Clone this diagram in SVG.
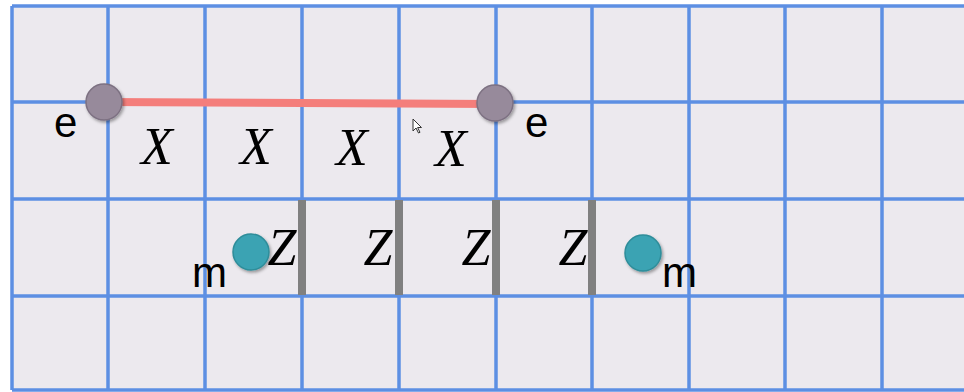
<svg xmlns="http://www.w3.org/2000/svg" width="964" height="392" viewBox="0 0 964 392">
<defs>
<style>
.grid line{stroke:#5d8fe3;stroke-width:3.5}
.bar{stroke:#808080;stroke-width:8}
.lbl{font-family:"Liberation Sans",Arial,sans-serif;font-size:42px;fill:#000}
.var{font-family:"Liberation Serif","Times New Roman",serif;font-style:italic;font-size:52px;fill:#000;text-anchor:middle}
.e{fill:#978a9b;stroke:#7d7182;stroke-width:1.5}
.m{fill:#3aa3b3;stroke:#2e8d9a;stroke-width:1.5}
</style>
<filter id="sh" x="-30%" y="-30%" width="160%" height="160%">
<feDropShadow dx="1.5" dy="2" stdDeviation="1.5" flood-color="#000" flood-opacity="0.35"/>
</filter>
</defs>
<rect width="964" height="392" fill="#ffffff"/>
<rect x="12" y="6" width="952" height="384" fill="#ece9ee"/>
<g class="grid">
<line x1="12" y1="6" x2="964" y2="6"/>
<line x1="12" y1="102" x2="964" y2="102"/>
<line x1="12" y1="199" x2="964" y2="199"/>
<line x1="12" y1="296" x2="964" y2="296"/>
<line x1="12" y1="390" x2="964" y2="390"/>
<line x1="12" y1="6" x2="12" y2="390"/>
<line x1="108" y1="6" x2="108" y2="390"/>
<line x1="205" y1="6" x2="205" y2="390"/>
<line x1="302" y1="6" x2="302" y2="390"/>
<line x1="399" y1="6" x2="399" y2="390"/>
<line x1="496" y1="6" x2="496" y2="390"/>
<line x1="592" y1="6" x2="592" y2="390"/>
<line x1="689" y1="6" x2="689" y2="390"/>
<line x1="785" y1="6" x2="785" y2="390"/>
<line x1="882" y1="6" x2="882" y2="390"/>
</g>
<g id="connectors">
<line x1="104" y1="102" x2="495" y2="104" stroke="#f47e7b" stroke-width="8"/>
<line class="bar" x1="302" y1="200" x2="302" y2="295"/>
<line class="bar" x1="399" y1="200" x2="399" y2="295"/>
<line class="bar" x1="496" y1="200" x2="496" y2="295"/>
<line class="bar" x1="592" y1="200" x2="592" y2="295"/>
</g>
<g id="e-left">
<circle class="e" cx="104" cy="102" r="18" filter="url(#sh)"/>
<text class="lbl" x="54" y="137">e</text>
</g>
<g id="e-right">
<circle class="e" cx="495" cy="103" r="18" filter="url(#sh)"/>
<text class="lbl" x="525" y="137">e</text>
</g>
<g id="m-left">
<circle class="m" cx="251" cy="252" r="18" filter="url(#sh)"/>
<text class="lbl" x="192" y="287">m</text>
</g>
<g id="m-right">
<circle class="m" cx="643" cy="253" r="18" filter="url(#sh)"/>
<text class="lbl" x="662" y="287">m</text>
</g>
<g id="x-labels">
<text class="var" x="157" y="164">X</text>
<text class="var" x="256" y="164">X</text>
<text class="var" x="352" y="165">X</text>
<text class="var" x="451" y="166">X</text>
</g>
<g id="z-labels">
<text class="var" x="282" y="265">Z</text>
<text class="var" x="378" y="265">Z</text>
<text class="var" x="476" y="265">Z</text>
<text class="var" x="573" y="265">Z</text>
</g>
<path id="cursor" d="M413,119 L413,131 L416,128 L418.5,133 L420,132.3 L417.6,127.5 L421.5,127.5 Z" fill="#ffffff" stroke="#333" stroke-width="1"/>
</svg>
